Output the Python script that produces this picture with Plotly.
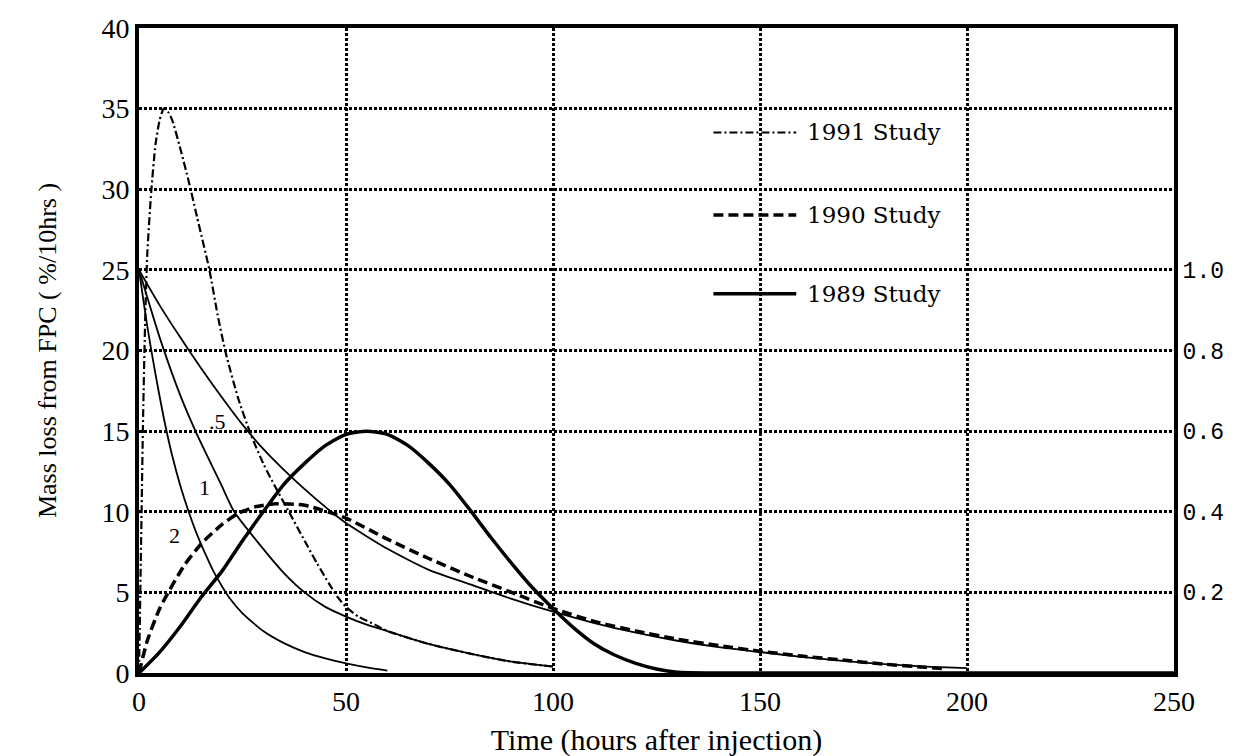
import plotly.graph_objects as go

# ---------------- data ----------------
t_1991 = [0, 0.5, 1, 1.5, 2, 3, 4, 5, 6, 7, 8, 10, 12, 14, 17, 19, 21, 24, 27, 30, 33, 36,
          40, 43, 46, 48, 50, 53, 57, 60, 70, 80, 90, 100]
v_1991 = [0, 8, 16, 22, 26, 30, 32.8, 34.3, 35, 34.8, 34.3, 32.5, 30.5, 28.3, 25, 22.2, 19.8,
          17.0, 14.8, 13.0, 11.5, 10.1, 8.2, 6.8, 5.5, 4.7, 4.1, 3.5, 3.0, 2.6, 1.8, 1.2, 0.7, 0.4]

t_1990 = [0, 2, 5, 7.5, 11, 15, 20, 24, 28, 33, 40, 50, 60, 70, 80, 90, 100, 110, 120, 130,
          140, 150, 160, 170, 180, 190, 195]
v_1990 = [0, 2.0, 4.0, 5.2, 6.7, 8.0, 9.2, 9.9, 10.3, 10.5, 10.4, 9.6, 8.3, 7.1, 6.0, 5.0, 4.0,
          3.2, 2.6, 2.1, 1.7, 1.35, 1.05, 0.8, 0.55, 0.35, 0.25]

t_1989 = [0, 5, 10, 15, 20, 25, 30, 35, 40, 45, 50, 55, 60, 65, 70, 75, 80, 85, 90, 95, 100,
          105, 110, 115, 120, 125, 130, 140, 250]
v_1989 = [0, 1.3, 2.9, 4.7, 6.3, 8.2, 10.0, 11.7, 13.0, 14.1, 14.8, 15.0, 14.8, 14.1, 13.0,
          11.7, 10.1, 8.4, 6.8, 5.3, 4.0, 2.8, 1.8, 1.1, 0.6, 0.25, 0.05, 0, 0]

t_c05 = [0, 5, 10, 15, 20, 25, 30, 35, 40, 45, 50, 60, 70, 80, 90, 100, 110, 120, 130, 140,
         150, 160, 170, 180, 190, 200]
v_c05 = [25, 22.8, 20.8, 18.9, 17.1, 15.4, 13.9, 12.6, 11.4, 10.3, 9.3, 7.7, 6.4, 5.5, 4.6, 3.8,
         3.1, 2.5, 2.0, 1.6, 1.3, 1.0, 0.75, 0.55, 0.4, 0.3]

t_c1 = [0, 5, 10, 14, 20, 23, 30, 35, 40, 45, 50, 55, 60, 70, 80, 90, 100]
v_c1 = [25, 20.8, 17.2, 14.8, 11.6, 10.0, 7.7, 6.2, 5.0, 4.1, 3.5, 3.0, 2.6, 1.8, 1.2, 0.7, 0.4]

t_c2 = [0, 2, 4, 6, 8, 10, 12, 14, 16, 18, 20, 22, 25, 30, 35, 40, 45, 50, 55, 60]
v_c2 = [25, 21.5, 18.5, 15.8, 13.5, 11.6, 10.0, 8.6, 7.4, 6.3, 5.4, 4.6, 3.7, 2.6, 1.85, 1.3,
        0.9, 0.6, 0.35, 0.15]

curve_labels = [".5", "1", "2"]
label_t = [18.9, 15.8, 8.6]
label_v = [15.6, 11.5, 8.5]

legend_names = ["1991 Study", "1990 Study", "1989 Study"]
x_ticks = [0, 50, 100, 150, 200, 250]
y_ticks = [0, 5, 10, 15, 20, 25, 30, 35, 40]
y2_ticks = [0.2, 0.4, 0.6, 0.8, 1.0]

# ---------------- figure ----------------
serif = "Liberation Serif"
fig = go.Figure()

def add_line(x, y, width, dash):
    fig.add_trace(go.Scatter(x=x, y=y, mode="lines", showlegend=False, hoverinfo="skip",
                             line=dict(color="black", width=width, dash=dash,
                                       shape="spline", smoothing=0.6)))

add_line(t_c05, v_c05, 1.8, "solid")
add_line(t_c1, v_c1, 1.8, "solid")
add_line(t_c2, v_c2, 1.8, "solid")
add_line(t_1991, v_1991, 2.2, "8px,3px,2px,3px")
add_line(t_1990, v_1990, 3.5, "10px,5px")
add_line(t_1989, v_1989, 3.5, "solid")

# empty trace to bring the secondary axis to life
fig.add_trace(go.Scatter(x=[], y=[], yaxis="y2", showlegend=False))

for txt, tx, ty in zip(curve_labels, label_t, label_v):
    fig.add_annotation(x=tx, y=ty, text=txt, showarrow=False,
                       font=dict(family=serif, size=22, color="black"))

# legend drawn inside the plot
leg_y = [0.838, 0.71, 0.588]
leg_dash = ["8px,3px,2px,3px", "10px,5px", "solid"]
leg_w = [2.2, 3.5, 3.5]
for name, yy, dsh, w in zip(legend_names, leg_y, leg_dash, leg_w):
    fig.add_shape(type="line", xref="x domain", yref="y domain",
                  x0=0.555, x1=0.635, y0=yy, y1=yy,
                  line=dict(color="black", width=w, dash=dsh))
    fig.add_annotation(xref="x domain", yref="y domain", x=0.643, y=yy, text=name,
                       showarrow=False, xanchor="left", yanchor="middle",
                       font=dict(family="DejaVu Serif", size=23, color="black"))

grid = dict(showgrid=True, gridcolor="black", gridwidth=3, griddash="3px,2px")

fig.update_layout(
    width=1238, height=756,
    margin=dict(l=131, r=72, t=20, b=91),
    plot_bgcolor="white", paper_bgcolor="white",
    xaxis=dict(range=[0, 250], tickvals=x_ticks, ticktext=[str(v) for v in x_ticks],
               showline=True, linecolor="black", linewidth=4, mirror=True,
               zeroline=False, ticks="", automargin=False,
               tickfont=dict(family=serif, size=28, color="black"),
               title=dict(text="Time (hours after injection)",
                          font=dict(family=serif, size=30, color="black"), standoff=14),
               **grid),
    yaxis=dict(range=[0, 40], tickvals=y_ticks, ticktext=[str(v) for v in y_ticks],
               showline=True, linecolor="black", linewidth=4, automargin=False,
               zeroline=False, ticks="", tickfont=dict(family=serif, size=28, color="black"),
               title=dict(text="Mass loss from FPC ( %/10hrs )",
                          font=dict(family=serif, size=26, color="black"), standoff=38),
               **grid),
    yaxis2=dict(range=[0, 1.6], overlaying="y", side="right", tickvals=y2_ticks,
                ticktext=[f"{v:.1f}" for v in y2_ticks], showgrid=False, zeroline=False,
                showline=True, linecolor="black", linewidth=4, ticks="", automargin=False,
                tickfont=dict(family="Liberation Mono", size=23, color="black")),
)

fig.write_html("out.html")
